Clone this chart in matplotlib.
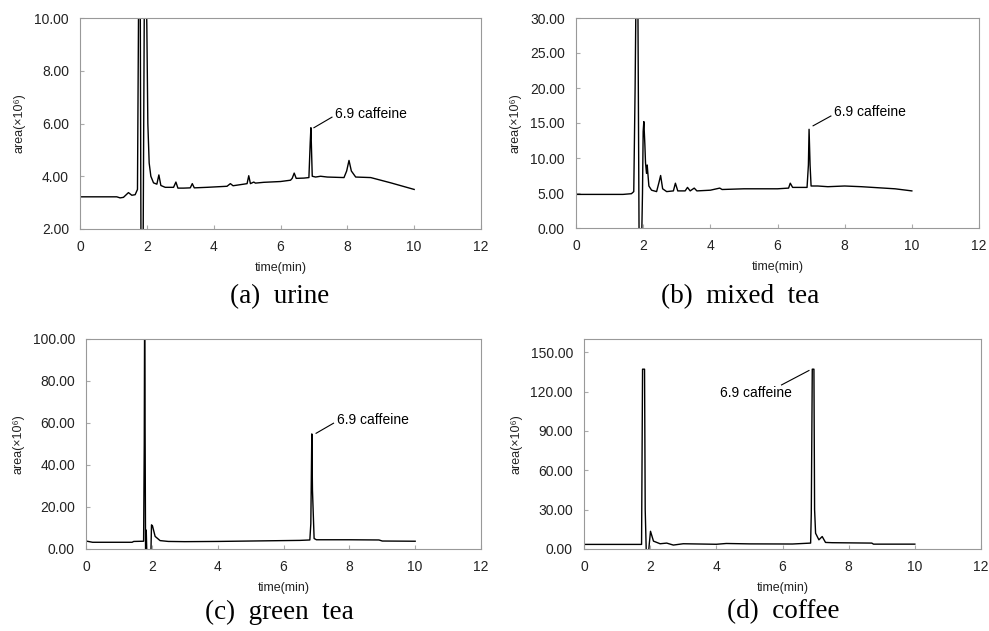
import numpy as np
import matplotlib.pyplot as plt

plt.rcParams['font.family'] = ['Liberation Sans', 'DejaVu Sans']

# chromatograms: time (min) and area (x10^6)
urine_t = [0, 1.1, 1.2, 1.3, 1.45, 1.55, 1.65, 1.72, 1.76, 1.80, 1.83, 1.88, 1.93, 1.97,
           2.00, 2.03, 2.07, 2.12, 2.2, 2.3, 2.36, 2.42, 2.55, 2.8, 2.87, 2.93, 3.1, 3.3,
           3.36, 3.42, 3.8, 4.4, 4.5, 4.58, 4.9, 5.0, 5.05, 5.1, 5.2, 5.25, 5.5, 6.0, 6.3,
           6.35, 6.41, 6.47, 6.7, 6.85, 6.89, 6.91, 6.95, 7.05, 7.2, 7.4, 7.9, 7.98, 8.05,
           8.12, 8.25, 8.7, 9.3, 10.0]
urine_v = [3.22, 3.22, 3.18, 3.2, 3.38, 3.28, 3.3, 3.5, 12, 12, -1, -1, 12, 12,
           9.7, 6.0, 4.5, 4.0, 3.75, 3.7, 4.05, 3.65, 3.58, 3.58, 3.78, 3.55, 3.55, 3.56,
           3.72, 3.56, 3.58, 3.62, 3.72, 3.64, 3.7, 3.72, 4.02, 3.72, 3.78, 3.74, 3.77, 3.8, 3.85,
           3.92, 4.12, 3.92, 3.93, 3.95, 5.3, 5.84, 4.0, 3.97, 4.0, 3.97, 3.95, 4.2, 4.6,
           4.2, 3.97, 3.95, 3.75, 3.5]

mixed_t = [0, 1.4, 1.65, 1.72, 1.76, 1.79, 1.84, 1.88, 1.95, 1.98, 2.00, 2.02, 2.05,
           2.07, 2.1, 2.12, 2.17, 2.25, 2.4, 2.47, 2.52, 2.58, 2.7, 2.9, 2.96, 3.03, 3.25,
           3.32, 3.4, 3.52, 3.6, 4.0, 4.28, 4.35, 5.0, 6.0, 6.33, 6.38, 6.45, 6.88, 6.92,
           6.94, 6.97, 7.0, 7.2, 7.5, 8.0, 8.5, 9.5, 10.0]
mixed_v = [4.8, 4.8, 4.9, 5.2, 20, 35, 35, -3, -3, 5, 13.8, 15.2, 12,
           9.3, 7.8, 9.0, 6.0, 5.4, 5.2, 6.5, 7.5, 5.6, 5.2, 5.3, 6.4, 5.3, 5.3,
           5.8, 5.3, 5.7, 5.3, 5.4, 5.7, 5.5, 5.6, 5.6, 5.7, 6.4, 5.8, 5.8, 9.0,
           14.1, 9.0, 6.0, 6.0, 5.9, 6.0, 5.9, 5.6, 5.3]

green_t = [0, 0.2, 1.4, 1.45, 1.75, 1.77, 1.78, 1.79, 1.81, 1.83, 1.85, 1.97, 1.99,
           2.02, 2.1, 2.25, 2.5, 3.0, 4.0, 5.0, 6.0, 6.5, 6.8, 6.83, 6.86, 6.88, 6.93,
           7.0, 8.0, 8.9, 9.0, 10.0]
green_v = [3.8, 3.2, 3.2, 3.6, 3.7, 50, 110, 78, -3, 9, -3, -3, 11.5,
           11.0, 6.0, 4.0, 3.6, 3.5, 3.6, 3.8, 4.0, 4.1, 4.3, 12, 54.8, 28, 5.0,
           4.4, 4.4, 4.3, 3.8, 3.7]

coffee_t = [0, 1.74, 1.77, 1.83, 1.85, 1.88, 1.9, 1.95, 1.97, 2.01, 2.1, 2.3, 2.5,
            2.7, 3.0, 4.0, 4.3, 5.0, 6.3, 6.85, 6.87, 6.9, 6.95, 6.97, 7.0, 7.1, 7.2,
            7.3, 7.5, 8.7, 8.75, 10.0]
coffee_v = [3.5, 3.5, 137, 137, 30, 0, -3, -3, 3, 13.5, 6.0, 4.0, 4.5,
            3.0, 4.0, 3.6, 4.2, 3.9, 3.8, 4.5, 27, 137, 137, 30, 12, 7.0, 9.5,
            5.0, 4.8, 4.5, 3.7, 3.7]

captions = ["(a)  urine", "(b)  mixed  tea", "(c)  green  tea", "(d)  coffee"]
ylims = [(2, 10), (0, 30), (0, 100), (0, 160)]
yticks = [np.arange(2, 10.1, 2), np.arange(0, 30.1, 5), np.arange(0, 100.1, 20), np.arange(0, 150.1, 30)]
# annotation: peak point, line end, text position
notes = [((7.0, 5.84), (7.54, 6.24), (7.62, 6.36)),
         ((7.06, 14.6), (7.59, 16.0), (7.67, 16.5)),
         ((6.99, 55.1), (7.52, 59.9), (7.62, 61.4)),
         ((6.80, 136), (5.97, 125), (4.11, 119))]

W, H = 989, 631
fig = plt.figure(figsize=(W / 100, H / 100), dpi=100)
boxes = [(80, 18, 481, 229), (576, 18, 979, 228), (86, 339, 481, 549), (584, 339, 981, 549)]
cap_pos = [(280, 297), (740, 297), (279, 612), (783, 612)]
data = [(urine_t, urine_v), (mixed_t, mixed_v), (green_t, green_v), (coffee_t, coffee_v)]

for i in range(4):
    l, t, r, b = boxes[i]
    ax = fig.add_axes([l / W, (H - b) / H, (r - l) / W, (b - t) / H])
    ax.plot(data[i][0], data[i][1], color='black', lw=1.0)
    ax.set_xlim(0, 12)
    ax.set_ylim(*ylims[i])
    ax.set_xticks(range(0, 13, 2))
    ax.set_yticks(yticks[i])
    ax.set_yticklabels(["%.2f" % v for v in yticks[i]])
    ax.tick_params(direction='in', length=3, color='#aaaaaa', labelsize=10, pad=8, labelcolor='#222222')
    for s in ax.spines.values():
        s.set_color('#999999')
    ax.set_xlabel("time(min)", fontsize=9, color='#222222', labelpad=6)
    ax.set_ylabel("area(×10⁶)", fontsize=9, color='#222222', labelpad=6)
    p, e, tx = notes[i]
    ax.plot([p[0], e[0]], [p[1], e[1]], color='black', lw=0.8)
    ax.text(tx[0], tx[1], "6.9 caffeine", fontsize=10, va='center', ha='left')
    cx, cy = cap_pos[i]
    fig.text(cx / W, 1 - cy / H, captions[i], fontsize=19.5, family='Liberation Serif',
             ha='center', va='center')

plt.savefig('out.png', dpi=100)
